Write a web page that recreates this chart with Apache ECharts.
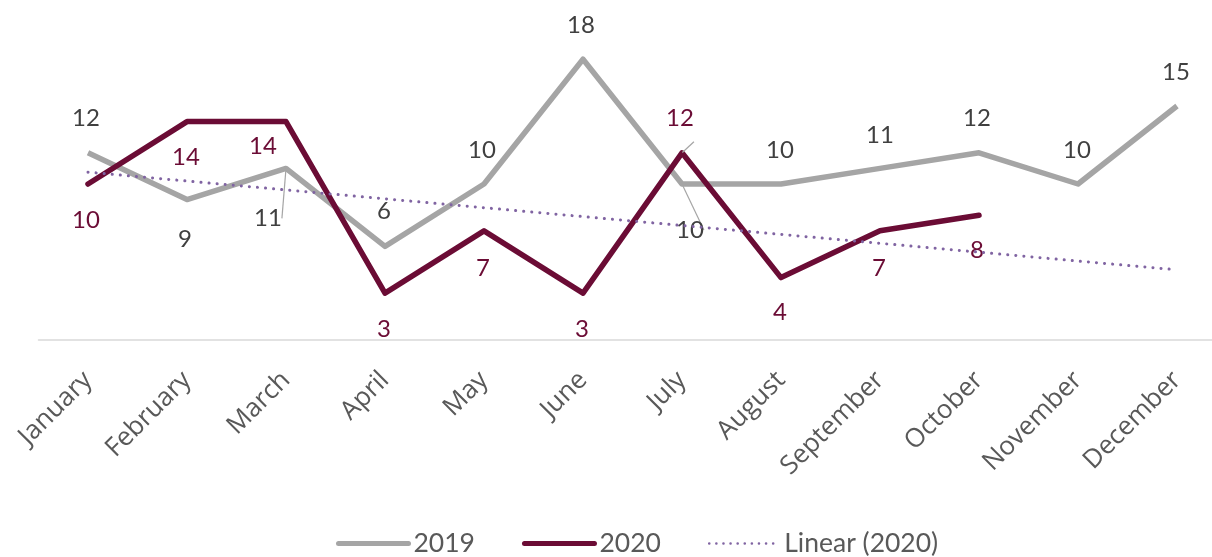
<!DOCTYPE html>
<html>
<head>
<meta charset="utf-8">
<script src="https://cdn.jsdelivr.net/npm/echarts@6/dist/echarts.min.js"></script>
<style>
  html, body { margin: 0; padding: 0; background: #fff; }
  #chart { width: 1212px; height: 557px; }
</style>
</head>
<body>
<div id="chart"></div>
<script>
  // data
  var months = ['January', 'February', 'March', 'April', 'May', 'June', 'July', 'August', 'September', 'October', 'November', 'December'];
  var values2019 = [12, 9, 11, 6, 10, 18, 10, 10, 11, 12, 10, 15];
  var values2020 = [10, 14, 14, 3, 7, 3, 12, 4, 7, 8];
  var trend2020 = [10.76, 10.19, 9.62, 9.05, 8.48, 7.91, 7.34, 6.77, 6.20, 5.63, 5.06, 4.50];

  // label offsets (x, y) from each point
  var off2019 = [[-2, -35], [-2, 40], [-18, 50], [-1, -35], [-2, -34], [-2, -34], [8, 46], [-1, -34], [0, -33], [-2, -35], [-1, -34], [-1, -34]];
  var off2020 = [[-2, 36], [-1, 36], [-23, 25], [-1, 36], [-1, 37], [-1, 36], [-2, -35], [-1, 35], [-1, 37], [-2, 35]];
  var lead2019 = [2, 6];
  var lead2020 = [6];

  var GRAY = '#A5A5A5';
  var MAROON = '#6B0C35';
  var TREND = '#8064A2';
  var labelFont = 'Lato, "Open Sans", sans-serif';

  function makeData(vals, offs, leads) {
    return vals.map(function (v, i) {
      var item = {
        value: v,
        symbol: 'circle',
        symbolSize: 1,
        itemStyle: { color: 'rgba(0,0,0,0)', borderWidth: 0 },
        label: { offset: offs[i] }
      };
      if (leads.indexOf(i) >= 0) {
        item.labelLine = { show: true, lineStyle: { color: '#A5A5A5', width: 1.2 } };
      }
      return item;
    });
  }

  var myChart = echarts.init(document.getElementById('chart'));
  myChart.setOption({
    animation: false,
    grid: { left: 38.5, width: 1188, top: 28, height: 312, outerBoundsMode: 'none' },
    legend: {
      left: 331,
      bottom: -5,
      itemWidth: 70,
      itemHeight: 8,
      itemGap: 47,
      itemStyle: { opacity: 0 },
      textStyle: { fontFamily: labelFont, fontSize: 26.5, color: '#595959' },
      data: [
        { name: '2019', lineStyle: { color: GRAY, width: 5, cap: 'round' } },
        { name: '2020', lineStyle: { color: MAROON, width: 5, cap: 'round' } },
        { name: 'Linear (2020)', lineStyle: { color: TREND, width: 2.5, type: [0.1, 7], cap: 'round' } }
      ]
    },
    xAxis: {
      type: 'category',
      data: months,
      boundaryGap: true,
      axisLine: { lineStyle: { color: '#D9D9D9', width: 1.5 } },
      axisTick: { show: false },
      axisLabel: {
        interval: 0,
        rotate: 45,
        margin: 36,
        fontFamily: '"Open Sans", sans-serif',
        fontSize: 26,
        color: '#595959'
      }
    },
    yAxis: {
      type: 'value',
      min: 0,
      max: 20,
      show: false,
      splitLine: { show: false }
    },
    series: [
      {
        name: '2019',
        type: 'line',
        symbol: 'none',
        lineStyle: { color: GRAY, width: 5.5, join: 'round' },
        itemStyle: { color: GRAY },
        label: {
          show: true,
          position: 'inside',
          fontFamily: labelFont,
          fontSize: 24,
          color: '#404040'
        },
        labelLine: { show: false },
        data: makeData(values2019, off2019, lead2019),
        z: 2
      },
      {
        name: '2020',
        type: 'line',
        symbol: 'none',
        lineStyle: { color: MAROON, width: 5.5, join: 'round', cap: 'round' },
        itemStyle: { color: MAROON },
        label: {
          show: true,
          position: 'inside',
          fontFamily: labelFont,
          fontSize: 24,
          color: MAROON
        },
        labelLine: { show: false },
        data: makeData(values2020, off2020, lead2020),
        z: 3
      },
      {
        name: 'Linear (2020)',
        type: 'line',
        symbol: 'none',
        lineStyle: { color: TREND, width: 3, type: [0.1, 8], cap: 'round' },
        itemStyle: { color: TREND },
        data: trend2020,
        z: 4
      }
    ]
  });
</script>
</body>
</html>
